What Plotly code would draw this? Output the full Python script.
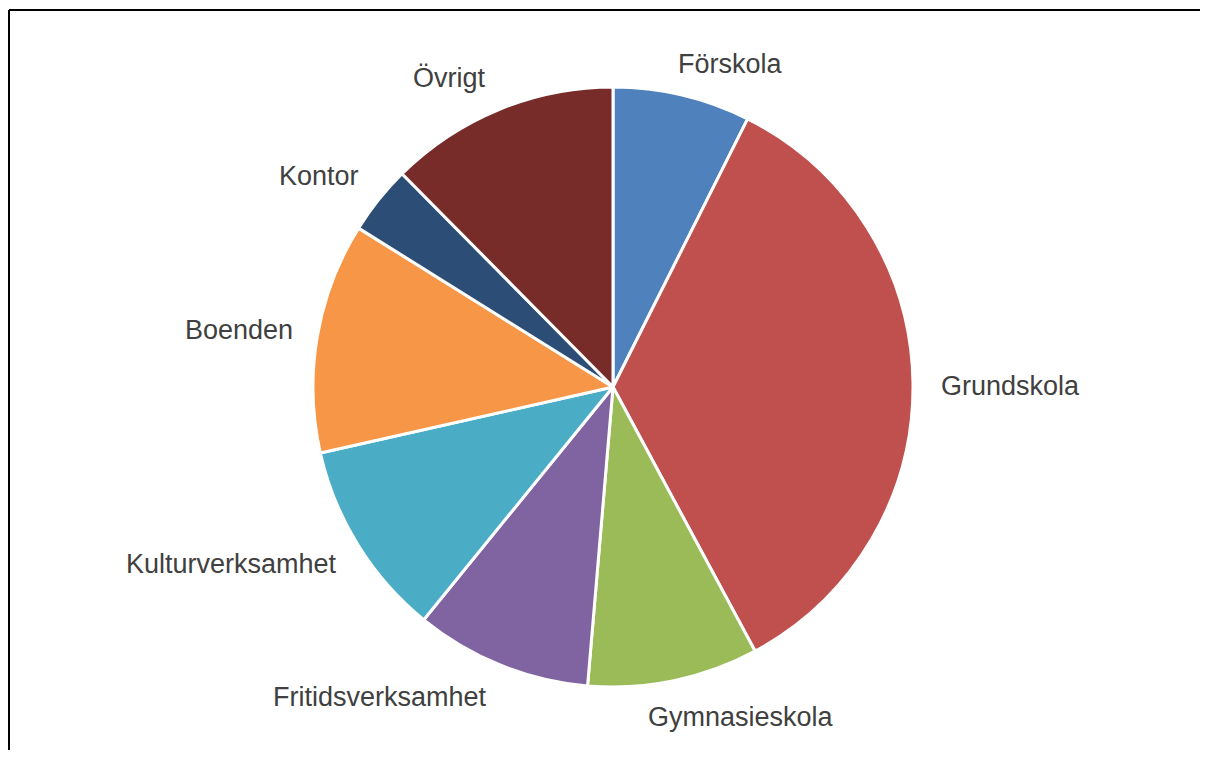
import math
import plotly.graph_objects as go

categories = ["Förskola", "Grundskola", "Gymnasieskola", "Fritidsverksamhet",
              "Kulturverksamhet", "Boenden", "Kontor", "Övrigt"]
values = [7.4, 34.7, 9.2, 9.5, 10.6, 12.4, 3.7, 12.4]
colors = ["#4F81BD", "#C0504D", "#9BBB59", "#8064A2",
          "#4BACC6", "#F79646", "#2C4D75", "#772C2A"]

# small label nudges in pixels (right, down)
label_nudge = [(-11, 7), (4, 4), (-32, -2), (-3, -6), (0, -10), (-1, -3), (-1, 7), (-3, 6)]

# page body has an 8px margin: work in figure coordinates (window minus 8)
OFF = 8
W, H = 1208 - 2 * OFF, 758 - 2 * OFF
cx, cy, R = 613 - OFF, 387 - OFF, 300
gap = 22

fig = go.Figure(go.Pie(
    labels=categories, values=values, sort=False, direction="clockwise",
    rotation=0, textinfo="none", hoverinfo="label+percent",
    marker=dict(colors=colors, line=dict(color="white", width=3)),
    domain=dict(x=[(cx - R) / W, (cx + R) / W], y=[1 - (cy + R) / H, 1 - (cy - R) / H]),
    showlegend=False,
))

# label positions derived from slice mid-angles
total = sum(values)
cum = 0
annotations = []
for lab, v, (nx, ny) in zip(categories, values, label_nudge):
    mid = (cum + v / 2) / total * 2 * math.pi
    cum += v
    dx, dy = math.sin(mid), math.cos(mid)  # dy positive = up
    px = cx + (R + gap) * dx
    py = cy - (R + gap) * dy
    xa = "left" if dx > 0.15 else ("right" if dx < -0.15 else "center")
    if abs(dy) < 0.25:
        ya = "middle"
    else:
        ya = "bottom" if dy > 0 else "top"
    annotations.append(dict(
        x=px / W, y=1 - py / H, xref="paper", yref="paper", text=lab,
        showarrow=False, xanchor=xa, yanchor=ya, xshift=nx, yshift=-ny,
        font=dict(family="Liberation Sans, Arial, sans-serif", size=27, color="#404040"),
    ))

top_y = 1 - (10 - OFF) / H
left_x = (9 - OFF) / W
fig.update_layout(
    width=W, height=H, margin=dict(l=0, r=0, t=0, b=0),
    paper_bgcolor="white", plot_bgcolor="white",
    annotations=annotations,
    shapes=[
        dict(type="line", xref="paper", yref="paper", x0=left_x, x1=1, y0=top_y, y1=top_y,
             line=dict(color="black", width=2)),
        dict(type="line", xref="paper", yref="paper", x0=left_x, x1=left_x, y0=top_y, y1=0,
             line=dict(color="black", width=2)),
    ],
)

fig.write_html("out.html")
